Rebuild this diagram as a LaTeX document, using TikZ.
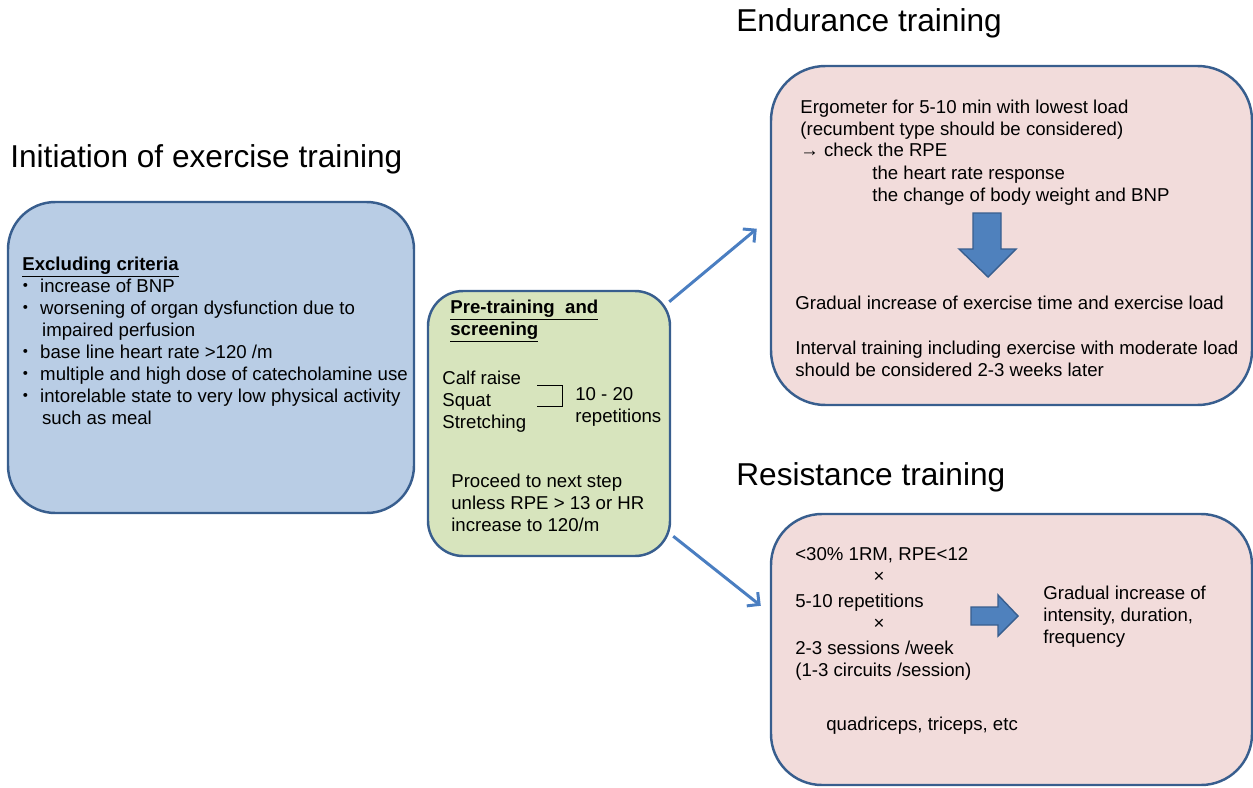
\documentclass[tikz,border=0pt]{standalone}
\usepackage{fontspec}
\setmainfont{Liberation Sans}
\newfontfamily\cjk{Noto Sans CJK JP}
\usepackage{tikz}
\usetikzlibrary{fit,arrows.meta}
\definecolor{boxEdge}{RGB}{56,94,142}
\definecolor{blueFill}{RGB}{185,205,229}
\definecolor{greenFill}{RGB}{215,228,189}
\definecolor{pinkFill}{RGB}{242,220,219}
\definecolor{flowBlue}{RGB}{74,126,193}
\definecolor{blockBlue}{RGB}{79,129,189}
\newcommand{\bul}{\makebox[13.6pt][l]{\cjk ・}}
\newcommand{\ind}{\hspace*{14.7pt}}

\begin{document}
\begin{tikzpicture}[x=0.02cm, y=-0.02cm,
    box/.style={draw=boxEdge, line width=1.4pt, inner sep=0pt},
    txt/.style={inner sep=0pt, align=left, anchor=base west, font=\fontsize{10.6}{12.5}\selectfont},
    head/.style={txt, font=\fontsize{10.6}{12.5}\selectfont\bfseries},
    title/.style={inner sep=0pt, anchor=base west, font=\fontsize{18}{21}\selectfont},
    flow/.style={flowBlue, line width=1.7pt, -{Straight Barb[length=5pt,width=10pt]}},
    blockarrow/.style={fill=blockBlue, draw=boxEdge, line width=0.8pt}]
  \useasboundingbox (0,0) rectangle (1253,787);

  \node[title] (initTitle) at (10,168) {Initiation of exercise training};
  \node[title] (endTitle) at (736,32) {Endurance training};
  \node[title] (resTitle) at (736,485) {Resistance training};

  \node[box, fill=blueFill, rounded corners=27pt, fit={(8,202) (414,513)}] (excl) {};
  \node[box, fill=greenFill, rounded corners=20pt, fit={(428,291) (670,556)}] (pre) {};
  \node[box, fill=pinkFill, rounded corners=31pt, fit={(771,66) (1252,405)}] (endur) {};
  \node[box, fill=pinkFill, rounded corners=29pt, fit={(771,514) (1252,785)}] (resist) {};

  \draw[flow] ([shift={(-2,12)}]pre.north east) -- ([shift={(-13,164)}]endur.north west);
  \draw[flow] ([shift={(2,-21)}]pre.south east) -- ([shift={(-9,93)}]resist.north west);

  % multi-line texts sit on the baseline of their last line
  \node[head] (exclHead) at (22,270) {\underline{Excluding criteria}};
  \node[txt] (exclList) at (16,424) {\bul increase of BNP\\
    \bul worsening of organ dysfunction due to\\
    \ind impaired perfusion\\
    \bul base line heart rate >120 /m\\
    \bul multiple and high dose of catecholamine use\\
    \bul intorelable state to very low physical activity\\
    \ind such as meal};

  % pre-training
  \node[head] (preHead) at (450,335) {\underline{Pre-training~ and}\\ \underline{screening}};
  \node[txt] (moves) at (442,428) {Calf raise\\ Squat\\ Stretching};
  \draw (537,385) -- (562,385) -- (562,406) -- (537,406);
  \node[txt] (reps) at (575,422) {10 - 20\\ repetitions};
  \node[txt] (proceed) at (451,531) {Proceed to next step\\ unless RPE > 13 or HR\\ increase to 120/m};

  % endurance
  \node[txt] (ergo) at (800,157) {Ergometer for 5-10 min with lowest load\\
    (recumbent type should be considered)\\
    → check the RPE};
  \node[txt] (checks) at (872,201) {the heart rate response\\ the change of body weight and BNP};
  \draw[blockarrow] (973,213) -- (1001,213) -- (1001,249) -- (1016,249) -- (988,277)
    -- (959,249) -- (973,249) -- cycle;
  \node[txt] (gradual) at (795,309) {Gradual increase of exercise time and exercise load};
  \node[txt] (interval) at (795,376) {Interval training including exercise with moderate load\\
    should be considered 2-3 weeks later};

  % resistance
  \node[txt] (load) at (795,560) {<30\% 1RM, RPE<12};
  \node[txt, anchor=base] (times1) at (879,582) {×};
  \node[txt] (setReps) at (795,607) {5-10 repetitions};
  \node[txt, anchor=base] (times2) at (879,629) {×};
  \node[txt] (sessions) at (795,676) {2-3 sessions /week\\ (1-3 circuits /session)};
  \node[txt] (muscles) at (826,730) {quadriceps, triceps, etc};
  \draw[blockarrow] (971,607) -- (998,607) -- (998,595) -- (1018,616) -- (998,636)
    -- (998,625) -- (971,625) -- cycle;
  \node[txt] (progress) at (1043,643) {Gradual increase of\\ intensity, duration,\\ frequency};
\end{tikzpicture}
\end{document}
